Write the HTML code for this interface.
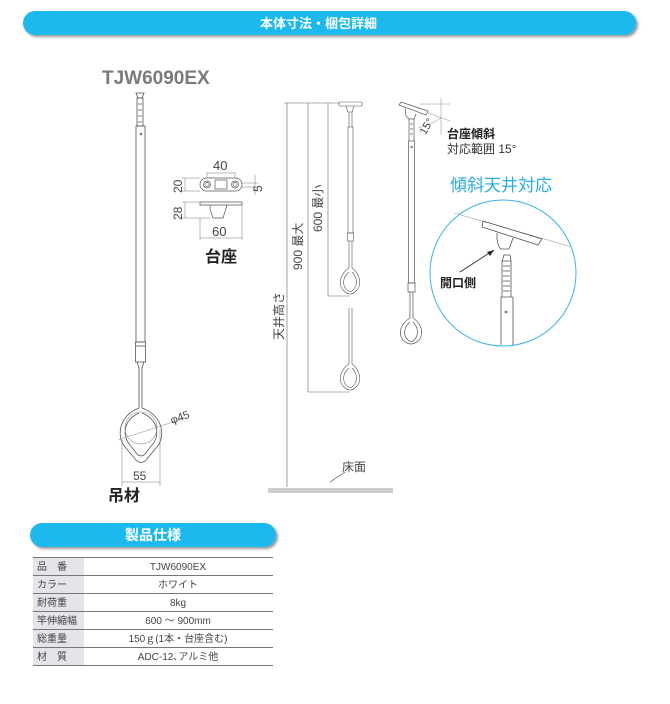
<!DOCTYPE html>
<html><head><meta charset="utf-8"><style>
html,body{margin:0;padding:0;background:#fff;}
body{width:670px;height:699px;overflow:hidden;font-family:"Liberation Sans","Noto Sans CJK JP",sans-serif;}
</style></head><body>
<svg width="670" height="699" viewBox="0 0 670 699" xmlns="http://www.w3.org/2000/svg" font-family="Liberation Sans, Noto Sans CJK JP, sans-serif">
<defs>
<filter id="sh" x="-5%" y="-30%" width="110%" height="180%"><feDropShadow dx="2" dy="2" stdDeviation="1.2" flood-color="#555" flood-opacity="0.6"/></filter>
</defs>
<rect x="23" y="11" width="613" height="24" rx="12" fill="#1fb9ee" filter="url(#sh)"/>
<text x="260" y="28" font-size="13" font-weight="bold" fill="#fff">本体寸法・梱包詳細</text>
<text x="102" y="84" font-size="19" font-weight="bold" fill="#7a7a7a">TJW6090EX</text>

<g fill="none" stroke="#555" stroke-width="0.8">
<path d="M136 93 h8 l-2 5 h-4 z"/>
<rect x="137" y="98" width="6" height="28"/>
<path d="M138 104 h4 M138 110 h4 M138 116 h4 M138 122 h4"/>
<rect x="136" y="126" width="9" height="216"/>
<circle cx="141" cy="134" r="0.8"/>
<rect x="135.5" y="342" width="10" height="20"/>
<path d="M136 346 h9"/>
<path d="M137 362 l2 6 v40 M144 362 l-2 6 v40"/>
<path d="M139 408 C118 416 116 438 126 448 L136 460 Q141 465 146 460 L156 448 C166 438 164 416 142 408"/>
<path d="M139 413 C123 420 122 436 130 445 L137 454 Q141 458 145 454 L152 445 C160 436 159 420 142 413"/>
<circle cx="141" cy="428" r="16" stroke="#888" stroke-width="0.6"/>
<path d="M118 440 L185 418" stroke="#888" stroke-width="0.5"/>
<path d="M122 440 V486 M160 430 V486 M122 482 H160" stroke="#777" stroke-width="0.5"/>
</g>
<text x="172" y="424" font-size="11" fill="#444" transform="rotate(-20 172 424)">φ45</text>
<text x="133" y="480" font-size="12" fill="#444">55</text>
<text x="108" y="501" font-size="16" font-weight="bold" fill="#222">吊材</text>

<g fill="none" stroke="#555" stroke-width="0.7">
<rect x="200" y="178" width="42" height="13" rx="6.5"/>
<circle cx="207" cy="184.5" r="3.5"/><circle cx="235" cy="184.5" r="3.5"/>
<circle cx="207" cy="184.5" r="2"/><circle cx="235" cy="184.5" r="2"/>
<rect x="215" y="180" width="12" height="9"/>
<path d="M200 202 h42 v3 h-42 z M210 205 v4 l3 9 h10 l4 -13"/>
<g stroke="#777" stroke-width="0.5">
<path d="M207 172 V178 M235 172 V178 M207 173 H235"/>
<path d="M182 178 H200 M182 191 H200 M185 178 V191"/>
<path d="M242 183 H258 M242 187 H258 M255 175 V195"/>
<path d="M182 202 H200 M182 218 H210 M185 202 V218"/>
<path d="M200 218 V240 M242 205 V240 M200 238 H242"/>
</g></g>
<text x="213" y="170" font-size="13" fill="#444">40</text>
<text x="182" y="193" font-size="12" fill="#444" transform="rotate(-90 182 193)">20</text>
<text x="262" y="192" font-size="12" fill="#444" transform="rotate(-90 262 192)">5</text>
<text x="182" y="220" font-size="12" fill="#444" transform="rotate(-90 182 220)">28</text>
<text x="212" y="236" font-size="13" fill="#444">60</text>
<text x="205" y="262" font-size="16" font-weight="bold" fill="#222">台座</text>

<g fill="none" stroke="#666" stroke-width="0.6">
<path d="M284 103 H340 M287 103 V487 M308 103 V392 M328 103 V296 M328 296 H350 M308 392 H350"/>
<rect x="339" y="102" width="23" height="4" rx="1" stroke="#555"/>
<path d="M346 106 l2 6 h4 l2 -6 M349 112 v15 M352 112 v15" stroke="#555"/>
<rect x="348" y="127" width="5" height="106" stroke="#555"/>
<rect x="347.5" y="233" width="6" height="8" stroke="#555"/>
<path d="M349 241 v27 M352 241 v27" stroke="#555"/>
<path d="M349 268 C340 274 338 284 343 290 Q350 298 357 290 C362 284 360 274 352 268 M349 272 C343 277 342 284 346 289 Q350 294 354 289 C358 284 357 277 352 272" stroke="#555"/>
<path d="M349 308 v56 M352 308 v56" stroke="#555"/>
<path d="M349 364 C340 370 338 380 343 386 Q350 394 357 386 C362 380 360 370 352 364 M349 368 C343 373 342 380 346 385 Q350 390 354 385 C358 380 357 373 352 368" stroke="#555"/>
<path d="M330 482 L345 472" stroke="#444"/>
</g>
<rect x="268" y="488" width="125" height="5" fill="#cdcdcd"/>
<text x="302" y="270" font-size="12" fill="#444" transform="rotate(-90 302 270)">900 最大</text>
<text x="322" y="232" font-size="12" fill="#444" transform="rotate(-90 322 232)">600 最小</text>
<text x="283" y="340" font-size="12" fill="#444" transform="rotate(-90 283 340)">天井高さ</text>
<text x="342" y="471" font-size="12" fill="#444">床面</text>

<g fill="none" stroke="#555" stroke-width="0.7">
<path d="M399 105 L401 102 L428 111 L426 115 Z"/>
<path d="M405 108 l1 8 l3 3 h5 l2 -5" />
<path d="M409 119 v22 M414 119 v22 M410 124 h3 M410 129 h3 M410 134 h3"/>
<rect x="408.5" y="141" width="6" height="142"/>
<circle cx="411.5" cy="147" r="0.8"/>
<rect x="408" y="283" width="7" height="9"/>
<path d="M410 292 v26 M413 292 v26"/>
<path d="M410 318 C400 324 398 334 403 340 Q411 348 419 340 C424 334 422 324 413 318 M410 322 C404 327 403 334 407 339 Q411 344 415 339 C419 334 418 327 413 322"/>
<path d="M420 104 H450 M441 98 V135 M428 113 L450 121" stroke="#888" stroke-width="0.5"/>
<path d="M418 128 Q432 124 441 118" stroke="#888" stroke-width="0.5"/>
</g>
<text x="420" y="134" font-size="11" fill="#444" transform="rotate(-60 424 130)">15°</text>
<text x="447" y="138" font-size="12" font-weight="bold" fill="#222">台座傾斜</text>
<text x="447" y="153" font-size="12" fill="#333">対応範囲 15°</text>
<text x="450" y="191" font-size="17" fill="#2aaee6">傾斜天井対応</text>
<circle cx="503" cy="273" r="73" fill="none" stroke="#3cb4ea" stroke-width="1"/>
<g fill="none" stroke="#555" stroke-width="0.8">
<path d="M454 213 L572 247" stroke="#999" stroke-width="0.6"/>
<path d="M483 221 L482 227 L538 245 L542 239 Z"/>
<path d="M497 233 v6 q1 8 4 10 h8 l4 -11"/>
<path d="M504 255 l-2 6 h9 l-1 -6 z"/>
<path d="M502 261 v36 M511 261 v36 M503 266 h7 M503 271 h7 M503 276 h7 M503 281 h7 M503 286 h7 M503 291 h7"/>
<path d="M501 297 v48 M513 297 v48 M501 297 h12"/>
<circle cx="506" cy="312" r="1"/>
<path d="M460 272 L494 250" stroke="#222"/>
</g>
<path d="M494 250 l-7 2 l3 4 z" fill="#222"/>
<text x="440" y="287" font-size="12" font-weight="bold" fill="#222">開口側</text>

<rect x="30" y="523" width="246" height="24" rx="12" fill="#1fb9ee" filter="url(#sh)"/>
<text x="153" y="540" font-size="14" font-weight="bold" fill="#fff" text-anchor="middle">製品仕様</text>
<rect x="33" y="557" width="51" height="108" fill="#e4e4ea"/>
<g stroke="#777" stroke-width="1">
<path d="M33 557.5 H273 M33 575.5 H273 M33 593.5 H273 M33 611.5 H273 M33 629.5 H273 M33 647.5 H273 M33 665.5 H273"/>
</g>
<g font-size="10" fill="#444">
<text x="37" y="570">品　番</text>
<text x="37" y="588">カラー</text>
<text x="37" y="606">耐荷重</text>
<text x="37" y="624">竿伸縮幅</text>
<text x="37" y="642">総重量</text>
<text x="37" y="660">材　質</text>
</g>
<g font-size="10" fill="#444" text-anchor="middle">
<text x="178" y="570">TJW6090EX</text>
<text x="178" y="588">ホワイト</text>
<text x="178" y="606">8kg</text>
<text x="178" y="624">600 ～ 900mm</text>
<text x="178" y="642">150ｇ(1本・台座含む)</text>
<text x="178" y="660">ADC-12､アルミ他</text>
</g>
</svg>
</body></html>
